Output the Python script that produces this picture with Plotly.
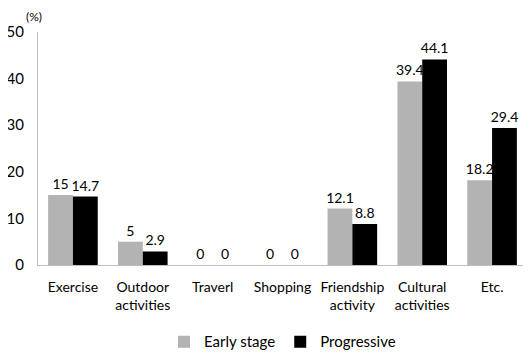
import plotly.graph_objects as go

categories = ["Exercise", "Outdoor<br>activities", "Traverl", "Shopping",
              "Friendship<br>activity", "Cultural<br>activities", "Etc."]
early = [15, 5, 0, 0, 12.1, 39.4, 18.2]
progressive = [14.7, 2.9, 0, 0, 8.8, 44.1, 29.4]
early_labels = ["15", "5", "0", "0", "12.1", "39.4", "18.2"]
prog_labels = ["14.7", "2.9", "0", "0", "8.8", "44.1", "29.4"]

FAM = "Lato, Open Sans, sans-serif"
font = dict(family=FAM, size=14, color="#000000")
label_font = dict(family=FAM, size=14, color="#000000")

fig = go.Figure()
fig.add_trace(go.Bar(x=categories, y=early, name="Early stage",
                     marker=dict(color="#b3b3b3", line=dict(width=0)),
                     text=early_labels, textposition="outside",
                     constraintext="none",
                     textfont=label_font, cliponaxis=False))
fig.add_trace(go.Bar(x=categories, y=progressive, name="Progressive",
                     marker=dict(color="#000000", line=dict(width=0)),
                     text=prog_labels, textposition="outside",
                     constraintext="none",
                     textfont=label_font, cliponaxis=False))

fig.update_layout(
    width=523, height=349,
    margin=dict(l=30, r=4, t=24, b=92, autoexpand=False),
    paper_bgcolor="white", plot_bgcolor="white",
    barmode="group", bargap=0.29, bargroupgap=0,
    font=font,
    showlegend=True,
    legend=dict(orientation="h", x=0.5, xanchor="center", y=-0.33, yanchor="middle",
                font=dict(family=FAM, size=15, color="#000000"),
                itemwidth=30, traceorder="normal"),
    xaxis=dict(showline=True, linecolor="#bfbfbf", linewidth=1, ticks="",
               showgrid=False, tickfont=font, automargin=False,
               ticklabelstandoff=9),
    yaxis=dict(range=[0, 50], dtick=10, showline=True, linecolor="#bfbfbf",
               linewidth=1, ticks="", showgrid=False, zeroline=False,
               tickfont=dict(family=FAM, size=15, color="#000000"),
               ticklabelstandoff=10, automargin=False),
    annotations=[dict(text="(%)", x=0, xref="paper", xanchor="center",
                      y=1, yref="paper", yanchor="bottom", yshift=6, xshift=-4,
                      showarrow=False, font=dict(family=FAM, size=12, color="#000000"))],
)

fig.write_html("out.html")
